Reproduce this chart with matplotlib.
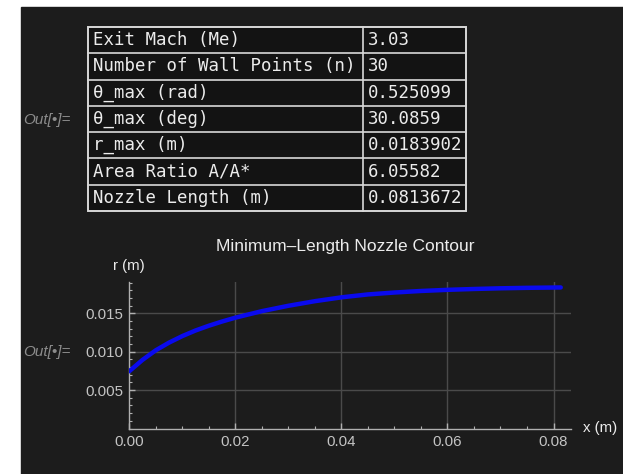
import matplotlib
matplotlib.use("Agg")
import matplotlib.pyplot as plt
from matplotlib.patches import Rectangle
from matplotlib.ticker import MultipleLocator, FormatStrFormatter

# table of nozzle results
table_labels = [
    "Exit Mach (Me)",
    "Number of Wall Points (n)",
    "θ_max (rad)",
    "θ_max (deg)",
    "r_max (m)",
    "Area Ratio A/A*",
    "Nozzle Length (m)",
]
table_values = ["3.03", "30", "0.525099", "30.0859", "0.0183902", "6.05582", "0.0813672"]

# wall contour
x_wall = [0.0, 0.0025, 0.005, 0.0075, 0.01, 0.0125, 0.015, 0.0175, 0.02, 0.025,
          0.03, 0.035, 0.04, 0.045, 0.05, 0.055, 0.06, 0.065, 0.07, 0.075, 0.0813672]
r_wall = [0.00747, 0.00895, 0.01020, 0.01120, 0.01205, 0.01278, 0.01340, 0.01395, 0.01445, 0.01530,
          0.01600, 0.01660, 0.01710, 0.01748, 0.01773, 0.01793, 0.01808, 0.01819, 0.01828, 0.01834, 0.01839]

W, H = 623, 474
BG = "#1c1c1c"
TXT = "#ececec"
GRAY = "#c4c4c4"

fig = plt.figure(figsize=(W / 100, H / 100), dpi=100, facecolor="white")

# background layer in pixel coordinates
bg = fig.add_axes([0, 0, 1, 1])
bg.set_xlim(0, W)
bg.set_ylim(H, 0)
bg.axis("off")
bg.add_patch(Rectangle((20.5, 6.5), W, H, color=BG, zorder=0))

# table
tx0, tx1, tdiv = 88, 466, 362.5
ty0, ty1 = 27, 211
n = len(table_labels)
rh = (ty1 - ty0) / n
bg.add_patch(Rectangle((tx0, ty0), tx1 - tx0, ty1 - ty0, facecolor="#131313",
                       edgecolor="#d8d8d8", lw=1.4, zorder=1))
for i in range(1, n):
    y = ty0 + i * rh
    bg.plot([tx0, tx1], [y, y], color="#d8d8d8", lw=1.2, zorder=2)
bg.plot([tdiv, tdiv], [ty0, ty1], color="#d8d8d8", lw=1.2, zorder=2)
for i, (lab, val) in enumerate(zip(table_labels, table_values)):
    yc = ty0 + (i + 0.5) * rh
    bg.text(tx0 + 5, yc, lab, color=TXT, fontsize=12.5, family="DejaVu Sans Mono",
            ha="left", va="center", zorder=3)
    bg.text(tdiv + 5, yc, val, color=TXT, fontsize=12.5, family="DejaVu Sans Mono",
            ha="left", va="center", zorder=3)

out_font = dict(color="#8c8c8c", fontsize=11, style="italic",
                family=["Liberation Sans", "DejaVu Sans"], ha="left", va="center")
bg.text(23, 120, "Out[•]=", **out_font)
bg.text(23, 352, "Out[•]=", **out_font)

# plot
ax = fig.add_axes([129.3 / W, 1 - 428.5 / H, 441.7 / W, 146.8 / H])
ax.set_facecolor("none")
ax.plot(x_wall, r_wall, color="#0a0aee", lw=3.2, solid_capstyle="round", zorder=3)
ax.set_xlim(0, 0.0833)
ax.set_ylim(0, 0.01914)

for s in ["top", "right"]:
    ax.spines[s].set_visible(False)
for s in ["left", "bottom"]:
    ax.spines[s].set_color("#b0b0b0")
    ax.spines[s].set_linewidth(1.0)

ax.xaxis.set_major_locator(MultipleLocator(0.02))
ax.xaxis.set_minor_locator(MultipleLocator(0.005))
ax.yaxis.set_major_locator(MultipleLocator(0.005))
ax.yaxis.set_minor_locator(MultipleLocator(0.001))
ax.xaxis.set_major_formatter(FormatStrFormatter("%.2f"))
ax.yaxis.set_major_formatter(FormatStrFormatter("%.3f"))
ax.set_yticks([0.005, 0.010, 0.015])
ax.tick_params(which="both", direction="in", colors="#b0b0b0", labelcolor=GRAY,
               labelsize=10.8, labelfontfamily="Liberation Sans")
ax.tick_params(which="major", length=4, width=1)
ax.tick_params(which="minor", length=2.2, width=0.8)
ax.tick_params(axis="x", pad=5)
ax.tick_params(axis="y", pad=4)

for v in [0.02, 0.04, 0.06, 0.08]:
    ax.axvline(v, color="#4a4a4a", lw=1, zorder=1)
for v in [0.005, 0.010, 0.015]:
    ax.axhline(v, color="#4a4a4a", lw=1, zorder=1)

bg.text(345, 246, "Minimum\u2013Length Nozzle Contour", color=TXT, fontsize=12.5,
        family="Liberation Sans", ha="center", va="center")
bg.text(129, 266, "r (m)", color=TXT, fontsize=10.8, family="Liberation Sans",
        ha="center", va="center")
bg.text(583, 428, "x (m)", color=TXT, fontsize=10.8, family="Liberation Sans",
        ha="left", va="center")

fig.savefig("out.png", dpi=100, facecolor="white")
